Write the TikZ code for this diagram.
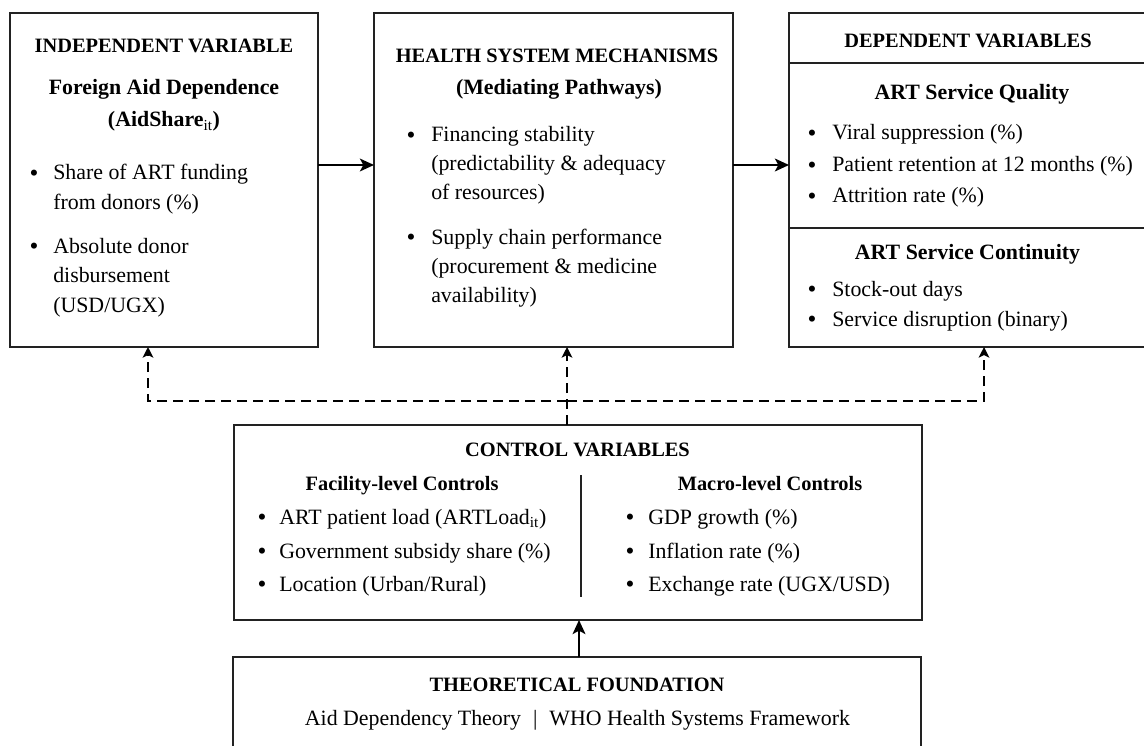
\documentclass[tikz,border=0pt]{standalone}
\usepackage{fontspec}
\setmainfont{Liberation Serif}
\usetikzlibrary{arrows.meta}
\definecolor{ln}{HTML}{222222}
\tikzset{
  box/.style={draw=ln, line width=1.2pt, inner sep=0pt, outer sep=0pt},
  hdr/.style={font=\bfseries\fontsize{15.3}{18}\selectfont, anchor=base, inner sep=0pt},
  ttl/.style={font=\bfseries\fontsize{16.4}{20}\selectfont, anchor=base, inner sep=0pt},
  txt/.style={font=\fontsize{16.4}{20}\selectfont, anchor=base west, inner sep=0pt},
  bul/.style={font=\fontsize{16.4}{20}\selectfont, anchor=base, inner sep=0pt},
  dot/.style={font=\fontsize{19}{20}\selectfont, anchor=base, inner sep=0pt, yshift=-1.2pt},
  arr/.style={draw=black, line width=1.9pt, -{Stealth[length=10.5pt,width=9.5pt,inset=2.5pt]}},
  darr/.style={draw=black, line width=1.5pt, dash pattern=on 7.5pt off 4.5pt, -{Stealth[length=8pt,width=8pt,inset=2pt]}},
  sep/.style={draw=ln, line width=1.2pt}
}
\begin{document}
\begin{tikzpicture}[x=0.75pt,y=-0.75pt]
\useasboundingbox (0,0) rectangle (1144,745);
\clip (0,0) rectangle (1144,745);
\fill[white] (0,0) rectangle (1144,745);

% ---------- boxes ----------
\node[box, minimum width=231pt, minimum height=250.5pt] (iv) at (164,180) {};
\node[box, minimum width=269.25pt, minimum height=250.5pt] (hsm) at (553.5,180) {};
\node[box, minimum width=270.75pt, minimum height=250.5pt] (dv) at (969.5,180) {};
\node[box, minimum width=516pt, minimum height=146.25pt] (ctl) at (578,522.5) {};
\node[box, minimum width=516pt, minimum height=84.75pt] (thy) at (577,713.5) {};

% ---------- independent variable ----------
\node[hdr] (ivh) at (164,53) {INDEPENDENT VARIABLE};
\node[ttl] (ivt1) at (164,95) {Foreign Aid Dependence};
\node[ttl] (ivt2) at (164,127) {(AidShare\textsubscript{\normalfont it})};
\node[dot] (ivb1) at (34,180) {\textbullet};
\node[txt] (iv1a) at (53,180) {Share of ART funding};
\node[txt] (iv1b) at (53,209.5) {from donors (\%)};
\node[dot] (ivb2) at (34,253) {\textbullet};
\node[txt] (iv2a) at (53,253) {Absolute donor};
\node[txt] (iv2b) at (53,282.5) {disbursement};
\node[txt] (iv2c) at (53,312) {(USD/UGX)};

% ---------- health system mechanisms ----------
\node[hdr] (hsmh) at (557,63) {HEALTH SYSTEM MECHANISMS};
\node[ttl] (hsmt) at (559,95) {(Mediating Pathways)};
\node[dot] (hsmb1) at (411,142) {\textbullet};
\node[txt] (hsm1a) at (431,142) {Financing stability};
\node[txt] (hsm1b) at (431,171) {(predictability \& adequacy};
\node[txt] (hsm1c) at (431,199.5) {of resources)};
\node[dot] (hsmb2) at (411,244) {\textbullet};
\node[txt] (hsm2a) at (431,244) {Supply chain performance};
\node[txt] (hsm2b) at (431,273) {(procurement \& medicine};
\node[txt] (hsm2c) at (431,302) {availability)};

% ---------- dependent variables ----------
\node[hdr] (dvh) at (968,48) {DEPENDENT VARIABLES};
\coordinate (dl1) at (789,63);
\coordinate (dl2) at (789,228);
\draw[sep] (dl1) -- (dl1 -| dv.east);
\draw[sep] (dl2) -- (dl2 -| dv.east);
\node[ttl] (dvq) at (972,100) {ART Service Quality};
\node[dot] (dvb1) at (812,140) {\textbullet};
\node[txt] (dv1) at (832,140) {Viral suppression (\%)};
\node[dot] (dvb2) at (812,172) {\textbullet};
\node[txt] (dv2) at (832,172) {Patient retention at 12 months (\%)};
\node[dot] (dvb3) at (812,203) {\textbullet};
\node[txt] (dv3) at (832,203) {Attrition rate (\%)};
\node[ttl] (dvc) at (967.5,259) {ART Service Continuity};
\node[dot] (dvb4) at (812,296) {\textbullet};
\node[txt] (dv4) at (832,296) {Stock-out days};
\node[dot] (dvb5) at (812,326) {\textbullet};
\node[txt] (dv5) at (832,326) {Service disruption (binary)};

% ---------- control variables ----------
\node[hdr] (ctlh) at (577.5,456) {CONTROL VARIABLES};
\node[hdr] (fch) at (402,490) {Facility-level Controls};
\node[dot] (fb1) at (262,524) {\textbullet};
\node[txt] (f1) at (279,524) {ART patient load (ARTLoad\textsubscript{it})};
\node[dot] (fb2) at (262,558) {\textbullet};
\node[txt] (f2) at (279,558) {Government subsidy share (\%)};
\node[dot] (fb3) at (262,591) {\textbullet};
\node[txt] (f3) at (279,591) {Location (Urban/Rural)};
\coordinate (cdt) at (581,475);
\coordinate (cdb) at (581,597);
\draw[sep] (cdt) -- (cdb);
\node[hdr] (mch) at (770,490) {Macro-level Controls};
\node[dot] (mb1) at (630,524) {\textbullet};
\node[txt] (m1) at (648,524) {GDP growth (\%)};
\node[dot] (mb2) at (630,558) {\textbullet};
\node[txt] (m2) at (648,558) {Inflation rate (\%)};
\node[dot] (mb3) at (630,591) {\textbullet};
\node[txt] (m3) at (648,591) {Exchange rate (UGX/USD)};

% ---------- theoretical foundation ----------
\node[hdr] (thyh) at (577,691) {THEORETICAL FOUNDATION};
\node[bul] (thyt) at (577.5,725) {Aid Dependency Theory\hspace{9pt}|\hspace{9pt}WHO Health Systems Framework};

% ---------- connectors ----------
\draw[arr] ([yshift=11.25pt]iv.east) -- ([yshift=11.25pt]hsm.west);
\draw[arr] ([yshift=11.25pt]hsm.east) -- ([yshift=11.25pt]dv.west);

\coordinate (jl) at (148,401);
\coordinate (jm) at (567,401);
\coordinate (jr) at (984,401);
\draw[darr] (jm) -- (jl) -- (iv.south -| jl);
\draw[darr] (jm) -- (jr) -- (dv.south -| jr);
\draw[darr] (ctl.north -| jm) -- (hsm.south -| jm);

\coordinate (ta) at (579,640);
\draw[arr] (thy.north -| ta) -- (ctl.south -| ta);
\end{tikzpicture}
\end{document}
